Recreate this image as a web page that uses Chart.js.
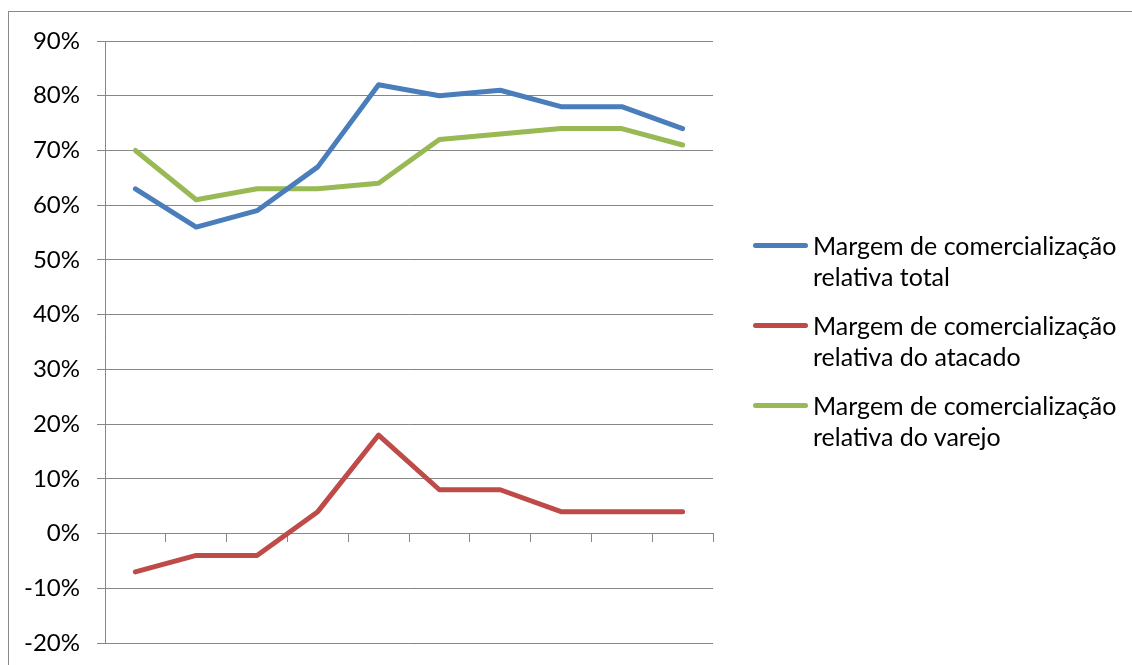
<!DOCTYPE html>
<html>
<head>
<meta charset="utf-8">
<script src="https://cdn.jsdelivr.net/npm/chart.js@4/dist/chart.umd.min.js"></script>
<style>
  body { margin: 0; background: #fff; }
  #wrap { position: relative; width: 1132px; height: 665px; overflow: hidden; }
  #frame { position: absolute; left: 8px; top: 11px; width: 1200px; height: 700px; border: 1px solid #8a8a8a; }
  #legend { position: absolute; left: 753px; top: 230px; font-family: Lato, sans-serif; font-size: 25px; color: #000; }
  #legend .item { position: relative; padding-left: 60px; line-height: 31px; margin-bottom: 18px; white-space: nowrap; }
  #legend .swatch { position: absolute; left: 0; top: 13px; width: 55px; height: 5px; border-radius: 3px; }
  canvas { display: block; }
</style>
</head>
<body>
<div id="wrap">
  <div id="frame"></div>
  <canvas id="margens" width="1132" height="665"></canvas>
  <div id="legend"></div>
</div>
<script>
// Categorias sem rótulo no eixo x
const periodos = ['1', '2', '3', '4', '5', '6', '7', '8', '9', '10'];

// Margens em %
const margemTotal   = [63, 56, 59, 67, 82, 80, 81, 78, 78, 74];
const margemAtacado = [-7, -4, -4, 4, 18, 8, 8, 4, 4, 4];
const margemVarejo  = [70, 61, 63, 63, 64, 72, 73, 74, 74, 71];

const nomesSeries = [
    ['Margem de comercialização', 'relativa total'],
    ['Margem de comercialização', 'relativa do atacado'],
    ['Margem de comercialização', 'relativa do varejo']
];
const cores = ['#4a7ebb', '#be4b48', '#98b954'];

const gridColor = '#868686';

const ctx = document.getElementById('margens');
const chart = new Chart(ctx, {
    type: 'line',
    data: {
        labels: periodos,
        datasets: [margemTotal, margemAtacado, margemVarejo].map((valores, i) => ({
            label: nomesSeries[i].join(' '),
            data: valores,
            borderColor: cores[i],
            borderWidth: 5,
            borderCapStyle: 'round',
            borderJoinStyle: 'round',
            pointRadius: 0,
            tension: 0
        }))
    },
    options: {
        responsive: false,
        animation: false,
        layout: { padding: { left: 0, top: 41, right: 419, bottom: 22 } },
        plugins: {
            legend: { display: false },
            tooltip: { enabled: false }
        },
        scales: {
            x: {
                position: { y: 0 },
                offset: true,
                afterFit: scale => { scale.height = 0; scale.paddingLeft = 0; scale.paddingRight = 0; },
                grid: { offset: true, drawOnChartArea: false, drawTicks: true, tickLength: 8, color: gridColor },
                border: { display: true, color: gridColor },
                ticks: { display: false }
            },
            y: {
                min: -20,
                max: 90,
                afterFit: scale => { scale.width = 105; scale.paddingTop = 0; scale.paddingBottom = 0; },
                grid: { color: gridColor, tickLength: 8 },
                border: { display: true, color: gridColor },
                ticks: {
                    stepSize: 10,
                    padding: 17,
                    color: '#000',
                    font: { family: 'Lato', size: 24 },
                    callback: v => v + '%'
                }
            }
        }
    }
});

// Legenda ao lado do gráfico
const legend = document.getElementById('legend');
chart.data.datasets.forEach((ds, i) => {
    const item = document.createElement('div');
    item.className = 'item';
    item.innerHTML = '<span class="swatch" style="background:' + ds.borderColor + '"></span>' +
        nomesSeries[i][0] + '<br>' + nomesSeries[i][1];
    legend.appendChild(item);
});
</script>
</body>
</html>
